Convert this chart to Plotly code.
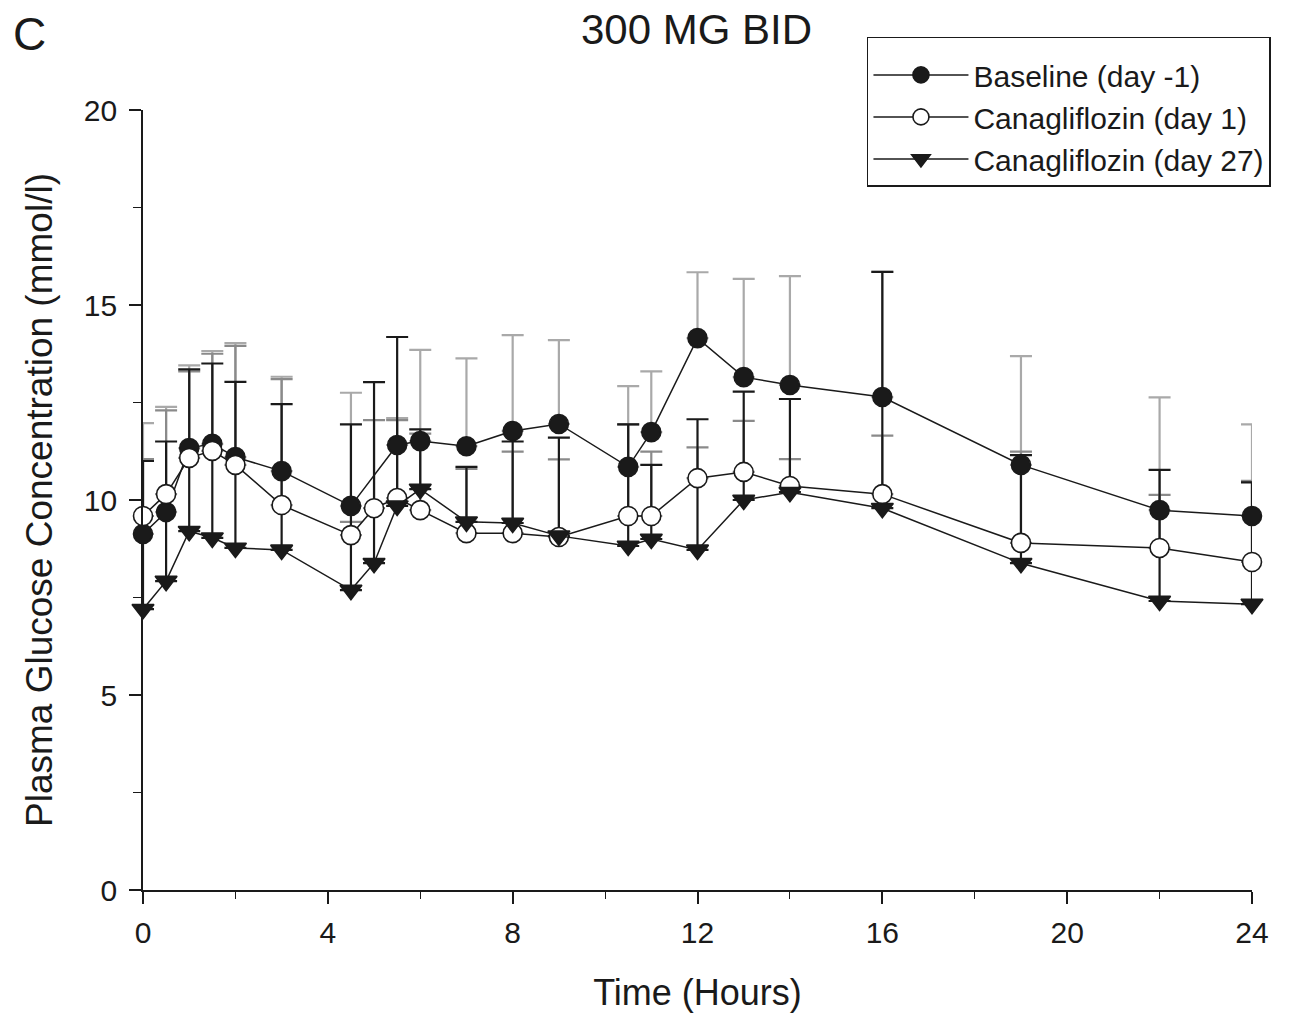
import plotly.graph_objects as go

# Sampling times (hours)
hours = [0, 0.5, 1, 1.5, 2, 3, 4.5, 5, 5.5, 6, 7, 8, 9, 10.5, 11, 12, 13, 14, 16, 19, 22, 24]

# Mean plasma glucose (mmol/l); baseline was not sampled at 5 h
baseline_mean = [9.13, 9.69, 11.33, 11.44, 11.10, 10.74, 9.85, None, 11.41, 11.51, 11.38,
                 11.77, 11.95, 10.85, 11.74, 14.15, 13.15, 12.95, 12.64, 10.90, 9.74, 9.59]
day1_mean = [9.59, 10.15, 11.08, 11.26, 10.90, 9.87, 9.10, 9.79, 10.05, 9.74, 9.15,
             9.15, 9.05, 9.59, 9.59, 10.56, 10.72, 10.36, 10.15, 8.90, 8.77, 8.41]
day27_mean = [7.20, 7.92, 9.20, 9.03, 8.77, 8.72, 7.69, 8.38, 9.85, 10.28, 9.44,
              9.41, 9.08, 8.82, 9.00, 8.72, 10.00, 10.20, 9.79, 8.38, 7.41, 7.33]

# Upper error (SD) for each series
baseline_sd = [2.84, 2.70, 2.12, 2.38, 2.92, 2.42, 2.90, None, 0.69, 2.34, 2.25,
               2.46, 2.15, 2.07, 1.56, 1.69, 2.52, 2.79, 3.21, 2.79, 2.89, 2.35]
day1_sd = [1.46, 2.15, 2.22, 2.49, 3.05, 3.23, 0.34, 2.26, 2.00, 1.96, 1.65,
           2.09, 1.99, 2.35, 1.65, 0.79, 1.31, 0.69, 1.50, 2.34, 1.36, 2.08]
day27_sd = [3.80, 3.58, 4.15, 4.47, 4.26, 3.74, 4.25, 4.64, 4.33, 1.53, 1.41,
            2.09, 2.52, 3.12, 1.90, 3.35, 2.78, 2.39, 6.06, 2.77, 3.36, 3.12]

series = [
    dict(name="Baseline (day -1)", y=baseline_mean, err=baseline_sd, err_color="#a9a9a9",
         symbol="circle", fill="#1a1a1a"),
    dict(name="Canagliflozin (day 1)", y=day1_mean, err=day1_sd, err_color="#8a8a8a",
         symbol="circle", fill="#ffffff"),
    dict(name="Canagliflozin (day 27)", y=day27_mean, err=day27_sd, err_color="#1a1a1a",
         symbol="triangle-down", fill="#1a1a1a"),
]

fig = go.Figure()

# Error bars first so that every marker sits on top of them
for s in series:
    err = [e if e is not None else 0 for e in s["err"]]
    fig.add_trace(go.Scatter(
        x=hours, y=s["y"], mode="markers", showlegend=False, hoverinfo="skip",
        marker=dict(size=1, color="rgba(0,0,0,0)"),
        error_y=dict(type="data", array=err, arrayminus=[0] * len(err), symmetric=False,
                     color=s["err_color"], thickness=2.2, width=11),
        cliponaxis=False,
    ))

# Mean profiles
for i, s in enumerate(series):
    fig.add_trace(go.Scatter(
        x=hours, y=s["y"], name=s["name"], mode="lines+markers", connectgaps=True,
        legendgroup=f"g{i}",
        line=dict(color="#1a1a1a", width=1.5),
        marker=dict(symbol=s["symbol"], size=19, color=s["fill"],
                    line=dict(color="#1a1a1a", width=1.6)),
        cliponaxis=False,
    ))

font_family = "Liberation Sans, Arial, sans-serif"

fig.update_layout(
    width=1289, height=1020,
    margin=dict(l=143, r=37, t=110, b=130),
    plot_bgcolor="white", paper_bgcolor="white",
    font=dict(family=font_family, size=22, color="#1a1a1a"),
    showlegend=True,
    legend=dict(
        x=0.6528, y=1.0936, xanchor="left", yanchor="top",
        bgcolor="white", bordercolor="#1a1a1a", borderwidth=1.5,
        font=dict(size=30, family=font_family),
        title=dict(text=" ", font=dict(size=8)),
        traceorder="grouped", tracegroupgap=0,
        itemsizing="trace", itemwidth=95,
    ),
    annotations=[
        dict(text="300 MG BID", x=0.4995, y=1.1026, xref="paper", yref="paper",
             showarrow=False, font=dict(size=42), xanchor="center", yanchor="middle"),
        dict(text="C", x=-0.102, y=1.098, xref="paper", yref="paper",
             showarrow=False, font=dict(size=46), xanchor="center", yanchor="middle"),
    ],
)

fig.update_xaxes(
    range=[0, 24], tickvals=[0, 4, 8, 12, 16, 20, 24],
    showline=True, linecolor="#1a1a1a", linewidth=1.6, mirror=False,
    ticks="outside", ticklen=12, tickwidth=1.6, tickcolor="#1a1a1a",
    minor=dict(dtick=2, ticks="outside", ticklen=7, tickwidth=1.4, tickcolor="#1a1a1a"),
    showgrid=False, zeroline=False,
    tickfont=dict(size=30), ticklabelstandoff=3,
    title=dict(text="Time (Hours)", font=dict(size=36), standoff=32),
)
fig.update_yaxes(
    range=[0, 20], tickvals=[0, 5, 10, 15, 20],
    showline=True, linecolor="#1a1a1a", linewidth=1.6, mirror=False,
    ticks="outside", ticklen=12, tickwidth=1.6, tickcolor="#1a1a1a",
    minor=dict(dtick=2.5, ticks="outside", ticklen=8, tickwidth=1.4, tickcolor="#1a1a1a"),
    showgrid=False, zeroline=False,
    tickfont=dict(size=30), ticklabelstandoff=6,
    title=dict(text="Plasma Glucose Concentration (mmol/l)", font=dict(size=37), standoff=20),
)

fig.write_html("out.html")
